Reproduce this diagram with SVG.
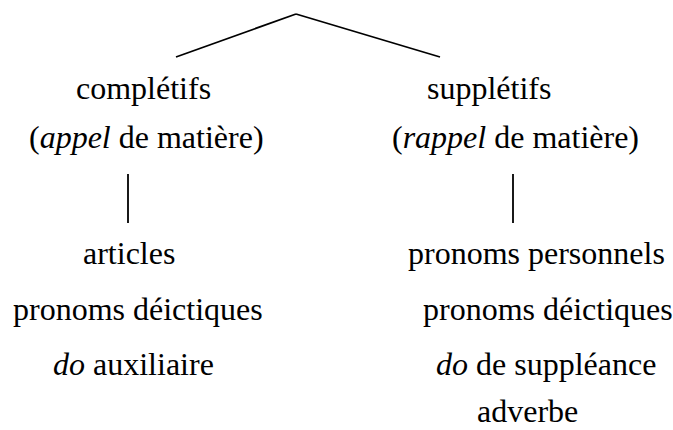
<svg xmlns="http://www.w3.org/2000/svg" width="673" height="430" viewBox="0 0 673 430">
<style>
text{font-family:"Liberation Serif","Times New Roman",serif;font-size:32px;fill:#000}
.i{font-style:italic}
.c line{stroke:#000;stroke-width:1.8;stroke-linecap:butt}
</style>
<rect width="673" height="430" fill="#fff"/>
<g class="c" id="connectors">
<line x1="176" y1="57" x2="296" y2="14"/>
<line x1="296" y1="14" x2="440" y2="57"/>
<line x1="128" y1="174" x2="128" y2="223"/>
<line x1="513" y1="174" x2="513" y2="223"/>
</g>
<g id="completifs">
<text x="76" y="99">complétifs</text>
<text x="29" y="148">(<tspan class="i">appel</tspan> de matière)</text>
</g>
<g id="suppletifs">
<text x="427" y="99">supplétifs</text>
<text x="392" y="148">(<tspan class="i">rappel</tspan> de matière)</text>
</g>
<g id="left-list">
<text x="83" y="264">articles</text>
<text x="13" y="320">pronoms déictiques</text>
<text x="53" y="375"><tspan class="i">do</tspan> auxiliaire</text>
</g>
<g id="right-list">
<text x="408" y="264">pronoms personnels</text>
<text x="423" y="320">pronoms déictiques</text>
<text x="436" y="375"><tspan class="i">do</tspan> de suppléance</text>
<text x="477" y="422">adverbe</text>
</g>
</svg>
